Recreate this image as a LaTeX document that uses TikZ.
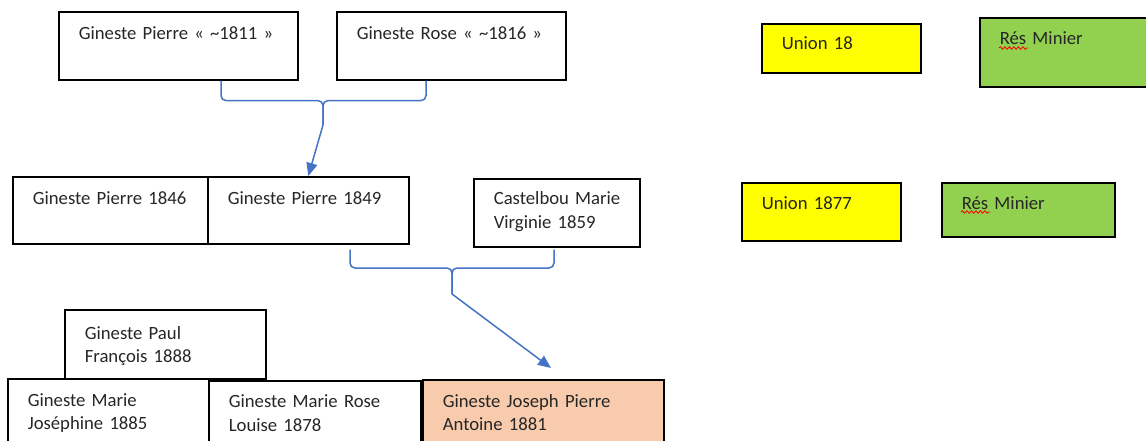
\documentclass[tikz,border=0pt]{standalone}
\usepackage{fontspec}
\setmainfont{Carlito}
\usetikzlibrary{arrows.meta,decorations.pathmorphing}
\definecolor{conblue}{HTML}{4472C4}
\definecolor{unionyellow}{HTML}{FFFF00}
\definecolor{resgreen}{HTML}{92D050}
\definecolor{peach}{HTML}{F8CBAD}
\tikzset{
  fam/.style n args={3}{draw=black, line width=1.6pt, anchor=north west,
    inner xsep=20pt, inner ysep=0pt, align=left,
    text width=#1, text height=#2, text depth=#3,
    font=\fontsize{18.7}{23.5}\selectfont, text=black!85},
  conn/.style={draw=conblue, line width=1.5pt, rounded corners=5pt},
  arr/.style={draw=conblue, line width=1.5pt, -{Triangle[length=13pt,width=11pt]}},
  squig/.style={draw=red, line width=0.8pt, decorate,
    decoration={snake, segment length=4.5pt, amplitude=1.3pt}}
}
\begin{document}
\begin{tikzpicture}[x=1pt,y=-1pt]
\useasboundingbox (0,0) rectangle (1146,441);
\clip (0,0) rectangle (1146,441);

% generation 1
\node[fam={199pt}{27.5pt}{40.5pt}] (g1811) at (58,11) {Gineste Pierre « \textasciitilde1811 »};
\node[fam={189pt}{27.5pt}{40.5pt}] (g1816) at (336,11) {Gineste Rose « \textasciitilde1816 »};

% generation 2
\node[fam={155pt}{27.5pt}{39.5pt}] (g1846) at (12,176) {Gineste Pierre 1846};
\node[fam={161pt}{27.5pt}{39.5pt}] (g1849) at (207,176) {Gineste Pierre 1849};
\node[fam={126pt}{26pt}{42pt}] (cast) at (473,178) {\mbox{Castelbou Marie}\\Virginie 1859};

% generation 3
\node[fam={161pt}{29.5pt}{39.5pt}] (paul) at (64,309) {Gineste Paul\\François 1888};
\node[fam={161pt}{27.5pt}{54.5pt}] (mjos) at (7,378) {Gineste Marie\\Joséphine 1885};
\node[fam={172pt}{27pt}{53pt}] (mros) at (208,380) {Gineste Marie Rose\\Louise 1878};
\node[fam={201pt}{27.5pt}{53.5pt}, fill=peach] (jos) at (422,379) {Gineste Joseph Pierre\\Antoine 1881};

% coloured boxes on the right
\node[fam={119pt}{26pt}{23pt}, fill=unionyellow] (u18) at (761,23) {Union 18};
\node[fam={146pt}{26.5pt}{42.5pt}, fill=resgreen] (res1) at (979,17) {Rés Minier};
\node[fam={119pt}{26.5pt}{31.5pt}, fill=unionyellow] (u1877) at (741,182) {Union 1877};
\node[fam={133pt}{26.5pt}{27.5pt}, fill=resgreen] (res2) at (941,182) {Rés Minier};

% spell-check squiggles
\draw[squig] ([shift={(20pt,-31pt)}]res1.north west) -- ++(29pt,0);
\draw[squig] ([shift={(20pt,-30pt)}]res2.north west) -- ++(29pt,0);

% brace 1
\coordinate (b1l) at ([xshift=163pt]g1811.south west);
\coordinate (b1r) at ([xshift=90pt]g1816.south west);
\coordinate (b1m) at (323,125);
\draw[conn] (b1l) -- ++(0,20) -| (b1m);
\draw[conn] (b1r) -- ++(0,20) -| (b1m);
\draw[arr] (b1m) -- (g1849.north);

% brace 2
\coordinate (b2l) at ([shift={(143pt,-5pt)}]g1849.south west);
\coordinate (b2r) at ([shift={(81pt,-2pt)}]cast.south west);
\coordinate (b2m) at (452,294);
\coordinate (jtip) at (551,368);
\draw[conn] (b2l) -- (350,268) -| (b2m);
\draw[conn] (b2r) -- (554,268) -| (b2m);
\draw[arr] (b2m) -- (jtip);
\end{tikzpicture}
\end{document}
